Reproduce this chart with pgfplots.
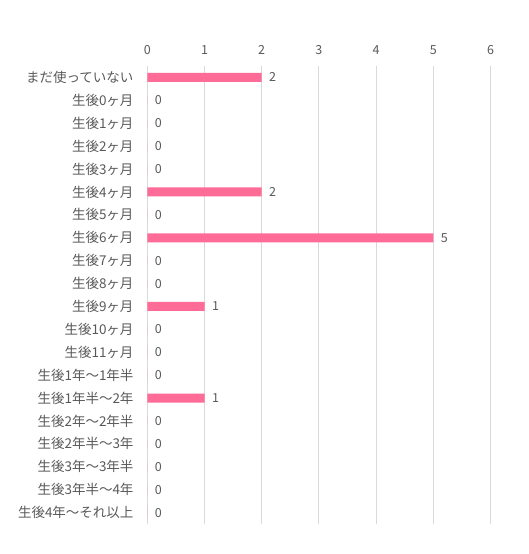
\documentclass[border=0pt]{standalone}
\usepackage{pgfplots}
\pgfplotsset{compat=1.18}
\usepackage{pgfplotstable}
\usepackage{fontspec}
\setmainfont{Noto Sans CJK JP}
\definecolor{barpink}{HTML}{FF6B97}
\definecolor{txtgray}{HTML}{595959}
\definecolor{gridgray}{HTML}{D9D9D9}
\pgfplotstableread{
idx val
0 2
1 0
2 0
3 0
4 0
5 2
6 0
7 5
8 0
9 0
10 1
11 0
12 0
13 0
14 1
15 0
16 0
17 0
18 0
19 0
}\datatable
\begin{document}
\begin{tikzpicture}
\useasboundingbox (0,0) rectangle (528pt,554pt);
\begin{axis}[
  at={(147.3pt,30pt)}, anchor=south west,
  scale only axis,
  width=343.2pt, height=458pt,
  xbar, bar width=9pt,
  xmin=0, xmax=6, ymin=-0.5, ymax=19.5,
  y dir=reverse,
  xtick={0,1,2,3,4,5,6},
  xticklabel pos=top,
  ytick={0,...,19},
  yticklabels={まだ使っていない,生後0ヶ月,生後1ヶ月,生後2ヶ月,生後3ヶ月,生後4ヶ月,生後5ヶ月,生後6ヶ月,生後7ヶ月,生後8ヶ月,生後9ヶ月,生後10ヶ月,生後11ヶ月,生後1年～1年半,生後1年半～2年,生後2年～2年半,生後2年半～3年,生後3年～3年半,生後3年半～4年,生後4年～それ以上},
  xmajorgrids, grid style={gridgray, line width=0.8pt},
  axis line style={draw=none},
  major tick style={draw=none},
  minor tick style={draw=none},
  /pgf/number format/assume math mode=true,
  tick label style={text=txtgray},
  xticklabel style={yshift=8pt, font=\fontsize{12.5}{14}\selectfont},
  yticklabel style={xshift=-6pt, font=\fontsize{13.5}{15}\selectfont},
  nodes near coords,
  every node near coord/.append style={text=txtgray, font=\fontsize{12.5}{14}\selectfont, anchor=west, xshift=4pt},
  clip=false,
]
\addplot[fill=barpink, draw=none] table[x=val, y=idx] {\datatable};
\end{axis}
\end{tikzpicture}
\end{document}
